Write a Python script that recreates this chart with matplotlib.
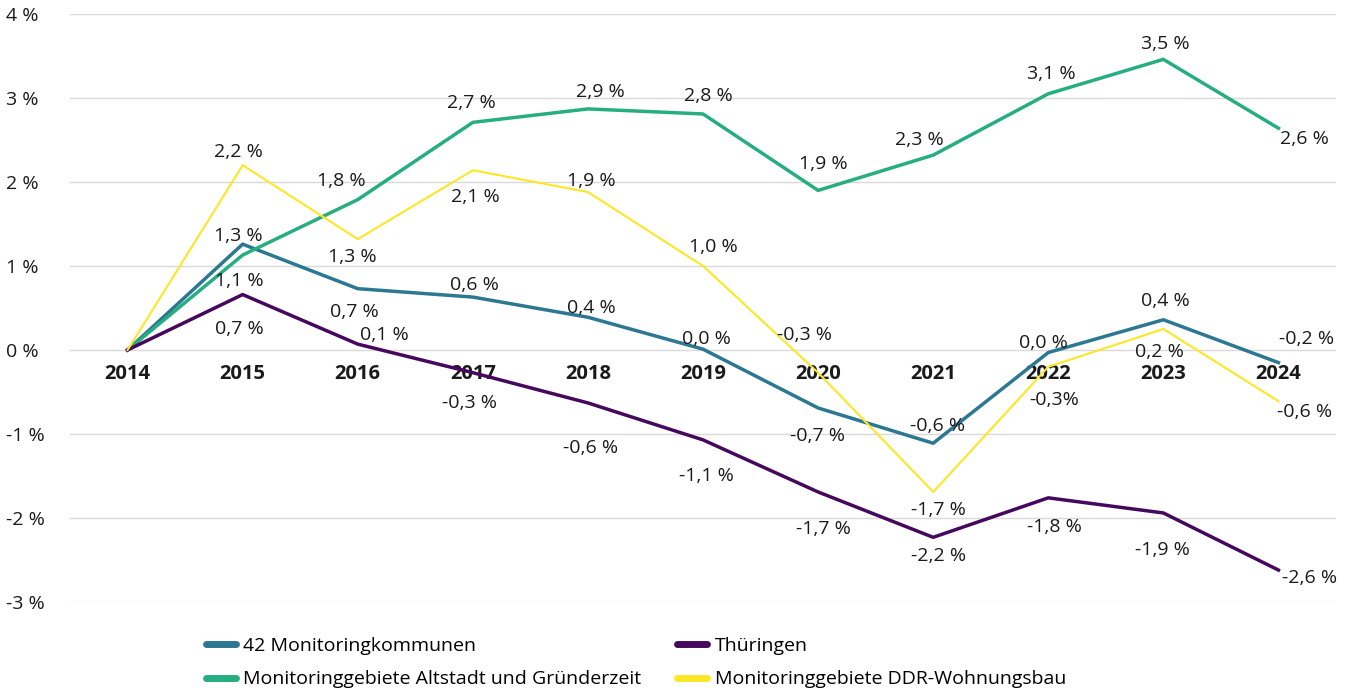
import matplotlib.pyplot as plt

plt.rcParams['font.family'] = ['Open Sans', 'DejaVu Sans']

# Jahre (Kategorien)
jahre = ['2014', '2015', '2016', '2017', '2018', '2019', '2020', '2021', '2022', '2023', '2024']

# Veränderung gegenüber 2014 in %
kommunen = [0, 1.26, 0.73, 0.63, 0.39, 0.01, -0.69, -1.11, -0.03, 0.36, -0.15]
thueringen = [0, 0.66, 0.07, -0.27, -0.63, -1.07, -1.69, -2.23, -1.76, -1.94, -2.62]
altstadt = [0, 1.13, 1.79, 2.71, 2.87, 2.81, 1.90, 2.32, 3.05, 3.46, 2.64]
ddr = [0, 2.20, 1.32, 2.14, 1.88, 1.00, -0.27, -1.69, -0.20, 0.25, -0.61]

# Datenbeschriftungen wie im Original
kommunen_lbl = [None, '1,3 %', '0,7 %', '0,6 %', '0,4 %', '0,0 %', '-0,7 %', '-0,6 %', '0,0 %', '0,4 %', '-0,2 %']
thueringen_lbl = [None, '0,7 %', '0,1 %', '-0,3 %', '-0,6 %', '-1,1 %', '-1,7 %', '-2,2 %', '-1,8 %', '-1,9 %', '-2,6 %']
altstadt_lbl = [None, '1,1 %', '1,8 %', '2,7 %', '2,9 %', '2,8 %', '1,9 %', '2,3 %', '3,1 %', '3,5 %', '2,6 %']
ddr_lbl = [None, '2,2 %', '1,3 %', '2,1 %', '1,9 %', '1,0 %', '-0,3 %', '-1,7 %', '-0,3%', '0,2 %', '-0,6 %']

# Versatz der Beschriftungen (Pixel)
kommunen_off = [None, (-4, 8), (-3, -23), (2, 12), (3, 9), (3, 10), (-1, -28), (4, 17), (-5, 10), (2, 19), (28, 24)]
thueringen_off = [None, (-3, -34), (27, 9), (-3, -30), (3, -45), (3, -36), (5, -37), (5, -19), (6, -29), (-1, -37), (31, -8)]
altstadt_off = [None, (-3, -26), (-16, 19), (-1, 19), (12, 17), (5, 18), (5, 26), (-14, 15), (3, 20), (2, 15), (26, -11)]
ddr_off = [None, (-4, 13), (-5, -18), (3, -27), (3, 11), (10, 19), (-14, 38), (5, -18), (6, -33), (-4, -23), (26, -11)]

fig = plt.figure(figsize=(13.51, 6.91), dpi=100)
ax = fig.add_axes([70 / 1351, 1 - 602 / 691, 1266 / 1351, 588 / 691])

x = list(range(len(jahre)))
serien = [
    ('42 Monitoringkommunen', kommunen, kommunen_lbl, kommunen_off, '#2c7791', 2.5),
    ('Monitoringgebiete Altstadt und Gründerzeit', altstadt, altstadt_lbl, altstadt_off, '#27ae80', 2.5),
    ('Thüringen', thueringen, thueringen_lbl, thueringen_off, '#46085c', 2.5),
    ('Monitoringgebiete DDR-Wohnungsbau', ddr, ddr_lbl, ddr_off, '#fde725', 1.5),
]

handles = []
for name, werte, lbl, off, farbe, lw in serien:
    h, = ax.plot(x, werte, color=farbe, lw=lw, label=name, zorder=3)
    handles.append(h)
    for i in x:
        if lbl[i] is None:
            continue
        ax.annotate(lbl[i], (i, werte[i]), xytext=off[i], textcoords='offset pixels',
                    ha='center', va='center', fontsize=14, color='#1a1a1a', zorder=4)

ax.set_xlim(-0.5, len(jahre) - 0.5)
ax.set_ylim(-3, 4)
ax.set_yticks(range(-3, 5))
ax.set_yticklabels([f'{v} %' for v in range(-3, 5)], ha='left', fontsize=14, color='#1a1a1a')
ax.tick_params(axis='y', length=0, pad=46)
ax.grid(axis='y', color='#d9d9d9', lw=1)
ax.set_axisbelow(True)

ax.spines['bottom'].set_position(('data', 0))
for s in ax.spines.values():
    s.set_visible(False)
ax.set_xticks(x)
ax.set_xticklabels(jahre, fontsize=14.5, fontweight='bold', color='#1a1a1a')
ax.tick_params(axis='x', length=0, pad=10)

leg = fig.legend(handles=handles, loc='lower left', bbox_to_anchor=(188 / 1351, -15 / 691), ncol=2,
                 frameon=False, fontsize=14, handlelength=1.55, handletextpad=0.38,
                 columnspacing=1.85, labelspacing=0.8)
for l in leg.get_lines():
    l.set_linewidth(5)
    l.set_solid_capstyle('round')

fig.savefig('out.png', dpi=100)
